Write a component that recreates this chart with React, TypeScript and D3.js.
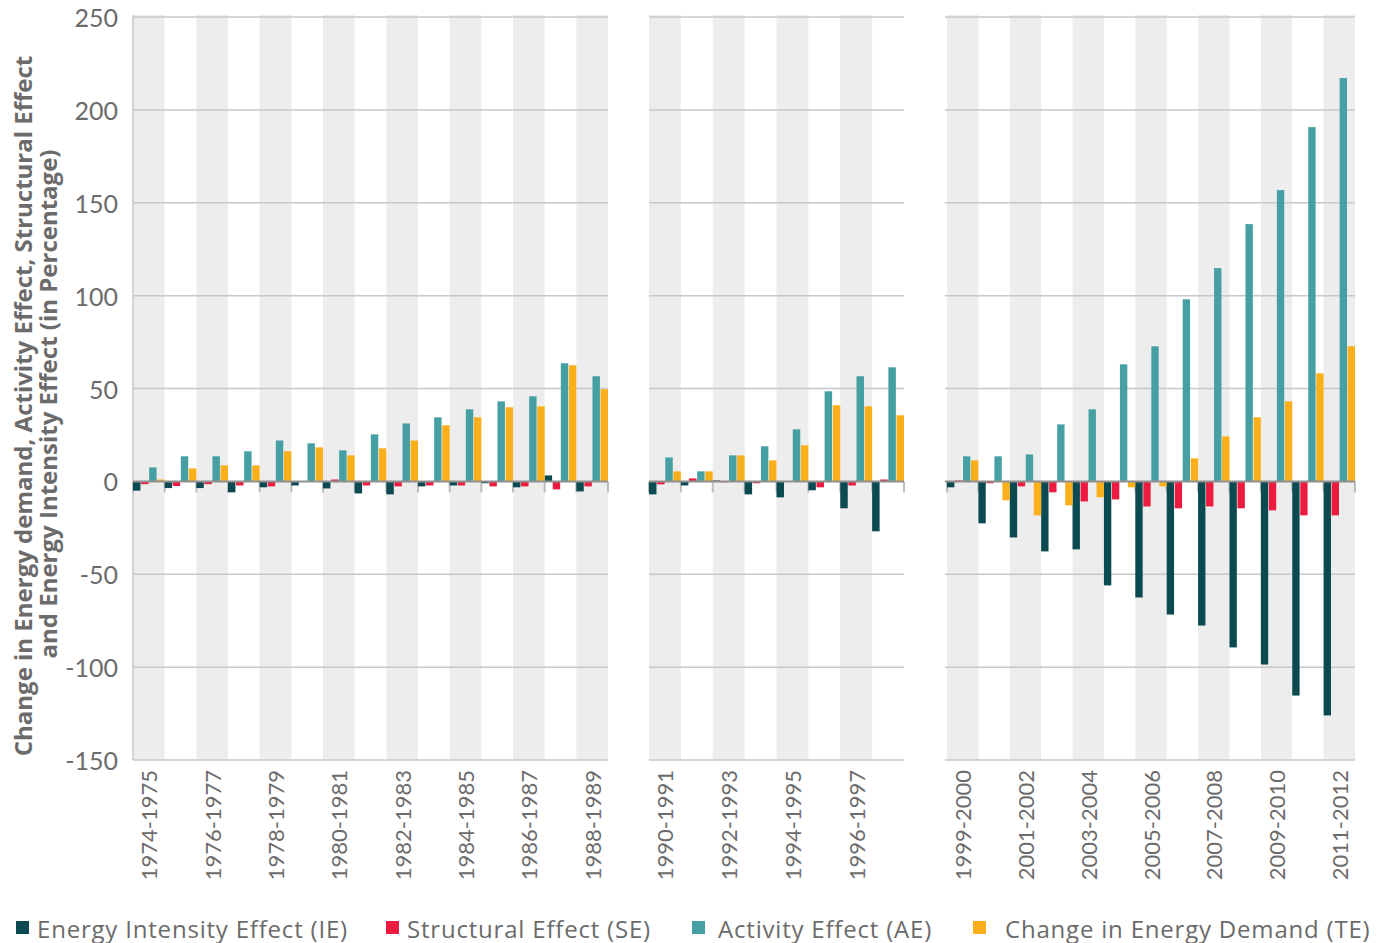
import React from 'react';
import * as d3 from 'd3';

// ---------- DATA ----------
const periods1 = ['1974-1975','1975-1976','1976-1977','1977-1978','1978-1979','1979-1980','1980-1981','1981-1982','1982-1983','1983-1984','1984-1985','1985-1986','1986-1987','1987-1988','1988-1989'];
const ie1 = [-5, -3.6, -3.6, -5.9, -3.2, -2.2, -3.8, -6.5, -7, -2.7, -2.2, -1, -3.2, 3.2, -5.4];
const se1 = [-1.5, -2.5, -1.5, -2.2, -2.7, -0.3, 1, -2.2, -2.7, -2.2, -2.2, -2.7, -2.7, -4.3, -2.7];
const ae1 = [7.5, 13.5, 13.5, 16.2, 22, 20.5, 16.7, 25.3, 31.2, 34.5, 38.8, 43.1, 45.8, 63.6, 56.6];
const te1 = [1, 7, 8.6, 8.6, 16.2, 18.3, 14, 17.8, 22, 30.2, 34.5, 39.9, 40.4, 62.5, 49.6];

const periods2 = ['1990-1991','1991-1992','1992-1993','1993-1994','1994-1995','1995-1996','1996-1997','1997-1998'];
const ie2 = [-7, -2.2, 0.5, -7, -8.6, -4.8, -14.5, -26.9];
const se2 = [-1.6, 1.6, -0.5, -1, -0.3, -3.2, -2.2, 1];
const ae2 = [12.9, 5.4, 14, 18.9, 28, 48.5, 56.6, 61.4];
const te2 = [5.4, 5.4, 14, 11.3, 19.4, 41, 40.4, 35.6];

const periods3 = ['1999-2000','2000-2001','2001-2002','2002-2003','2003-2004','2004-2005','2005-2006','2006-2007','2007-2008','2008-2009','2009-2010','2010-2011','2011-2012'];
const ie3 = [-3.2, -22.6, -30.2, -37.7, -36.6, -56, -62.5, -71.7, -77.6, -89.4, -98.6, -115.3, -126];
const se3 = [0.5, -1, -2.7, -5.9, -10.8, -9.7, -13.5, -14.5, -13.5, -14.5, -15.6, -18.3, -18.3];
const ae3 = [13.5, 13.5, 14.5, 30.7, 38.8, 63, 72.7, 98, 114.8, 138.5, 156.8, 190.7, 217.1];
const te3 = [11.3, -10.2, -18.3, -12.9, -8.6, -3.2, -2.7, 12.4, 24.2, 34.5, 43.1, 58.2, 72.7];

const yTicks = [250, 200, 150, 100, 50, 0, -50, -100, -150];
const seriesNames = ['Energy Intensity Effect (IE)', 'Structural Effect (SE)', 'Activity Effect (AE)', 'Change in Energy Demand (TE)'];
const seriesKeys = ['IE', 'SE', 'AE', 'TE'];
const yTitle1 = 'Change in Energy demand, Activity Effect, Structural Effect';
const yTitle2 = 'and Energy Intensity Effect (in Percentage)';

// ---------- STYLE / LAYOUT ----------
const colors = ['#0b4a50', '#ed1b3f', '#46a0a3', '#fbb01b'];
const textColor = '#6b6b6b';
const stripeColor = '#ededed';
const gridColor = '#c8c8c8';
const FONT = 'Lato, "Open Sans", sans-serif';
const FONT2 = '"Open Sans", Lato, sans-serif';

const panels = [
  { periods: periods1, series: [ie1, se1, ae1, te1], x0: 133, x1: 608, gridX0: 133, axisLine: true },
  { periods: periods2, series: [ie2, se2, ae2, te2], x0: 649, x1: 904, gridX0: 649, axisLine: false },
  { periods: periods3, series: [ie3, se3, ae3, te3], x0: 947, x1: 1355, gridX0: 945, axisLine: false },
];

const legendX = [16, 386, 692, 973];
const legendTextX = [37, 407, 718, 1005];

export default function App() {
  const y = d3.scaleLinear().domain([-150, 250]).range([760, 17]);
  const y0 = y(0);

  return (
    <svg width={1380} height={943} style={{ position: 'absolute', left: 0, top: 0, background: '#fff' }} fontFamily={FONT}>
      {panels.map((p, pi) => {
        const x = d3.scaleBand<string>().domain(p.periods).range([p.x0, p.x1]).paddingInner(0).paddingOuter(0);
        const sub = d3.scaleBand<string>().domain(seriesKeys).range([0, x.bandwidth()]).paddingInner(0.08).paddingOuter(0);
        return (
          <g key={pi}>
            {p.periods.map((d, i) => i % 2 === 0 ? (
              <rect key={d} x={x(d)} y={15} width={x.bandwidth()} height={y(-150) - 15} fill={stripeColor} />
            ) : null)}
            {yTicks.filter(t => t !== 0).map(t => (
              <line key={t} x1={p.gridX0} x2={p.x1} y1={y(t)} y2={y(t)} stroke={gridColor} strokeWidth={1.5} />
            ))}
            {p.axisLine && <line x1={p.x0} x2={p.x0} y1={15} y2={y(-150)} stroke={gridColor} strokeWidth={1.5} />}
            {p.periods.map((d) => (
              <line key={'t' + d} x1={(x(d) as number)} x2={(x(d) as number)} y1={y0} y2={y0 + 11} stroke="#bdbdbd" strokeWidth={2} />
            ))}
            <line x1={p.x1} x2={p.x1} y1={y0} y2={y0 + 11} stroke="#bdbdbd" strokeWidth={2} />
            {p.series.map((vals, si) => (
              <g key={si} fill={colors[si]}>
                {vals.map((v, i) => {
                  const d = p.periods[i];
                  const bx = (x(d) as number) + (sub(seriesKeys[si]) as number);
                  return <rect key={i} x={bx} y={Math.min(y(v), y0)} width={sub.bandwidth()} height={Math.abs(y(v) - y0)} />;
                })}
              </g>
            ))}
            <line x1={p.gridX0} x2={p.x1} y1={y0} y2={y0} stroke="#8f8f8f" strokeWidth={2} />
            {p.periods.map((d, i) => i % 2 === 0 ? (
              <text key={'l' + d} transform={`translate(${(x(d) as number) + x.bandwidth() / 2},770) rotate(-90)`}
                textAnchor="end" dominantBaseline="central" fontSize={22} fill={textColor}>{d}</text>
            ) : null)}
          </g>
        );
      })}
      {yTicks.map(t => (
        <text key={t} x={118} y={y(t)} textAnchor="end" dominantBaseline="central" fontSize={25} fill={textColor}>{t}</text>
      ))}
      <g transform="translate(22,406) rotate(-90)">
        <text textAnchor="middle" dominantBaseline="central" fontFamily={FONT2} fontSize={24} fontWeight="bold" fill={textColor}>{yTitle1}</text>
      </g>
      <g transform="translate(47,404) rotate(-90)">
        <text textAnchor="middle" dominantBaseline="central" fontFamily={FONT2} fontSize={24} fontWeight="bold" fill={textColor}>{yTitle2}</text>
      </g>
      {seriesNames.map((n, i) => (
        <g key={n}>
          <rect x={legendX[i]} y={921} width={13} height={13} fill={colors[i]} />
          <text x={legendTextX[i]} y={928} dominantBaseline="central" fontFamily={FONT2} fontSize={24} letterSpacing={0.8} fill={textColor}>{n}</text>
        </g>
      ))}
    </svg>
  );
}
